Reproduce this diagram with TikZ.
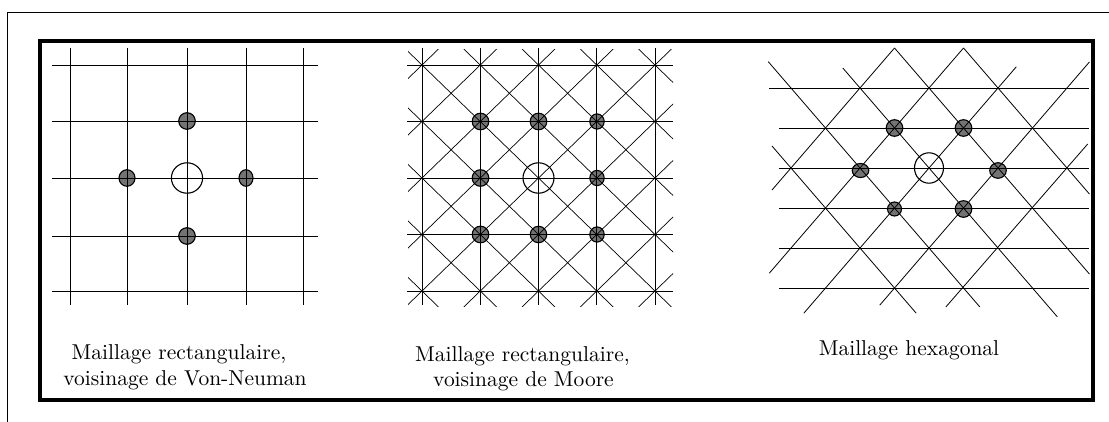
\documentclass[tikz,border=0pt]{standalone}

\definecolor{dotgray}{HTML}{737373}

\begin{document}
\begin{tikzpicture}[x=1pt, y=-1pt,
    grid/.style={
        draw=black,
        line width=0.8pt
    },
    voisin/.style={
        fill=dotgray,
        draw=black,
        line width=1.1pt
    },
    centre/.style={
        draw=black,
        line width=1.1pt
    },
    legend/.style={
        anchor=base,
        inner sep=0pt,
        scale=2.15,
        font=\fontsize{10}{12}\selectfont
    }
]

\useasboundingbox (0,0) rectangle (1109,422);

%%%%%%%%%%%%%%%%%%%%%%%%
% Cadres
%%%%%%%%%%%%%%%%%%%%%%%%

\draw[line width=0.8pt] (7,422) -- (7,12) -- (1109,12);
\draw[line width=4.5pt, line join=miter] (40,41) rectangle (1093,400);

%%%%%%%%%%%%%%%%%%%%%%%%
% Maillage rectangulaire, Von-Neuman
%%%%%%%%%%%%%%%%%%%%%%%%

% --- Voisins ---
\draw[voisin] (187,121) circle [x radius=8.3, y radius=8.3];
\draw[voisin] (127,178) circle [x radius=8, y radius=8.3];
\draw[voisin] (246,178) circle [x radius=7, y radius=8.3];
\draw[voisin] (187,236) circle [x radius=8.3, y radius=8.3];

% --- Grille ---
\foreach \x in {70,127,187,246,303}
    \draw[grid] (\x,48) -- (\x,305);
\foreach \y in {65,121,178,236,291}
    \draw[grid] (52,\y) -- (318,\y);

% --- Cellule centrale ---
\draw[centre] (187,178) circle [x radius=15.6, y radius=15.2];

% --- Legende ---
\node[legend] (legVNa) at (179,359) {Maillage rectangulaire,};
\node[legend] (legVNb) at (185,385) {voisinage de Von-Neuman};

%%%%%%%%%%%%%%%%%%%%%%%%
% Maillage rectangulaire, Moore
%%%%%%%%%%%%%%%%%%%%%%%%

% --- Voisins ---
\draw[voisin] (480.5,121.5) circle [x radius=8.3, y radius=8.3];
\draw[voisin] (538.5,121.5) circle [x radius=8.3, y radius=8.3];
\draw[voisin] (597,121.5) circle [x radius=7.2, y radius=7.6];
\draw[voisin] (480.5,178) circle [x radius=8.3, y radius=8.3];
\draw[voisin] (597,178) circle [x radius=7.2, y radius=7.6];
\draw[voisin] (480.5,234.5) circle [x radius=8.3, y radius=8.3];
\draw[voisin] (538.5,234.5) circle [x radius=8.2, y radius=8.2];
\draw[voisin] (597,234.5) circle [x radius=7.2, y radius=7.6];

% --- Grille ---
\foreach \c in {0,...,4}
    \draw[grid] ({422+58.25*\c},48) -- ({422+58.25*\c},305);
\foreach \y in {65,121.5,178,234.5,291}
    \draw[grid] (407,\y) -- (673,\y);

% --- Diagonales ---
\begin{scope}
    \clip (408,50) rectangle (673,306);
    \foreach \k in {-4,...,4}
        \draw[grid, line width=0.7pt]
            ({422+58.25*(\k-1)},8.5) -- ({422+58.25*(\k+5)},347.5);
    \foreach \s in {0,...,8}
        \draw[grid, line width=0.7pt]
            ({422+58.25*(\s+1)},8.5) -- ({422+58.25*(\s-5)},347.5);
\end{scope}

% --- Cellule centrale ---
\draw[centre] (538.5,178) circle [x radius=15.5, y radius=15.2];

% --- Legende ---
\node[legend] (legMa) at (522.5,361.5) {Maillage rectangulaire,};
\node[legend] (legMb) at (523.5,386.5) {voisinage de Moore};

%%%%%%%%%%%%%%%%%%%%%%%%
% Maillage hexagonal
%%%%%%%%%%%%%%%%%%%%%%%%

% --- Voisins ---
\draw[voisin] (894.5,128) circle [x radius=8.3, y radius=8.3];
\draw[voisin] (963.5,128) circle [x radius=8.3, y radius=8.3];
\draw[voisin] (860.5,170.5) circle [x radius=8.3, y radius=7];
\draw[voisin] (998,170.5) circle [x radius=8.3, y radius=7.8];
\draw[voisin] (894.5,209) circle [x radius=7, y radius=7];
\draw[voisin] (963.5,209) circle [x radius=8.3, y radius=8.3];

% --- Horizontales ---
\draw[grid] (769,88) -- (1089,88);
\foreach \y in {128,168,208,248,288}
    \draw[grid] (779,\y) -- (1089,\y);

% --- Diagonales descendantes ---
\draw[grid] (772,146) -- (916.2,313.2);
\draw[grid] (768.2,61.6) -- (979.7,306.8);
\draw[grid] (842.8,68) -- (1057.3,316.8);
\draw[grid] (894.5,48) -- (1089.4,274);
\draw[grid] (963.5,48) -- (1089.4,194);

% --- Diagonales montantes ---
\draw[grid] (772,190) -- (894.5,48);
\draw[grid] (769.3,273.2) -- (963.5,48);
\draw[grid] (803.8,313.2) -- (1016.3,66.8);
\draw[grid] (879.7,305.2) -- (1089.4,62);
\draw[grid] (946,306.8) -- (1087.7,144);

% --- Cellule centrale ---
\draw[centre] (929,168) circle [x radius=14.5, y radius=15.2];

% --- Legende ---
\node[legend] (legHex) at (909,355) {Maillage hexagonal};

\end{tikzpicture}
\end{document}
